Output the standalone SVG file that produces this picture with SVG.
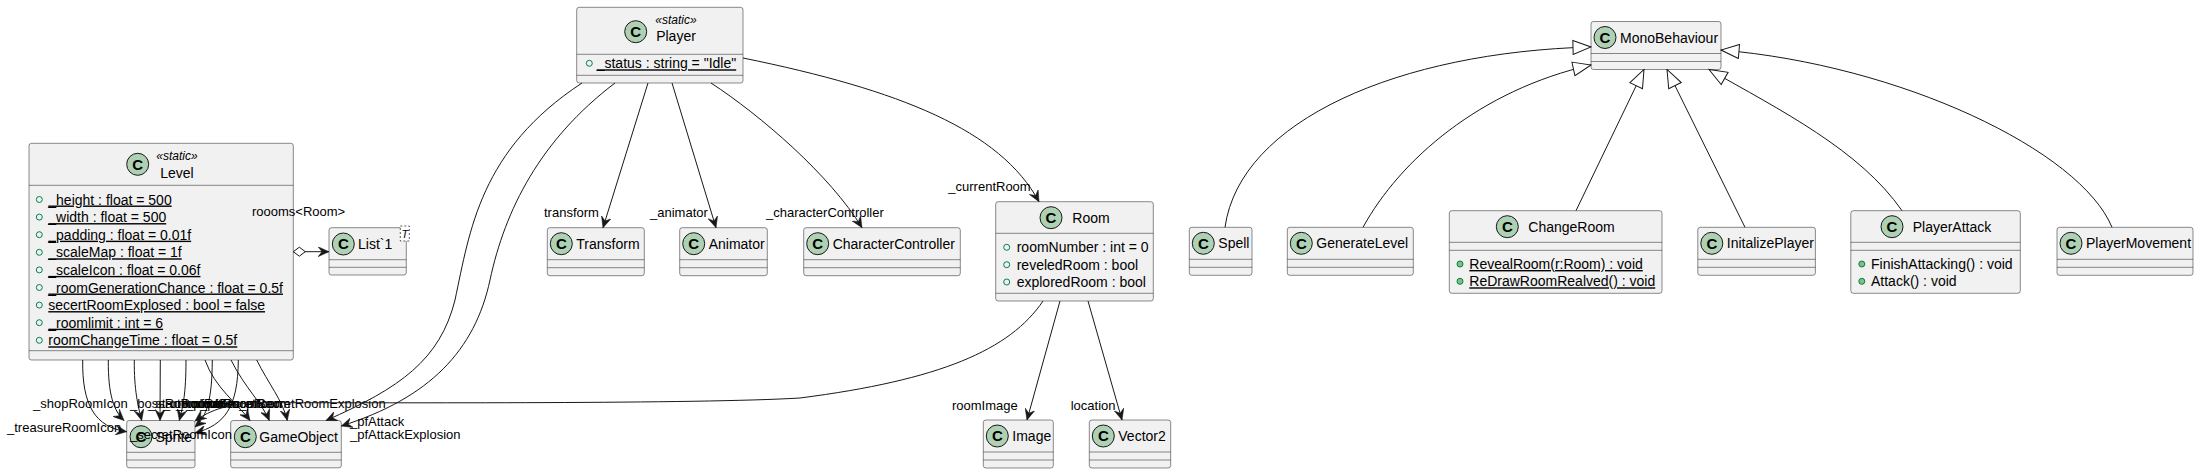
<svg xmlns="http://www.w3.org/2000/svg" width="2199" height="474" viewBox="0 0 2199 474">
<style>
.bg{fill:#FFFFFF}
.box{fill:#F1F1F1;stroke:#181818;stroke-width:0.5}
.dv{stroke:#181818;stroke-width:0.5}
.ci{fill:#ADD1B2;stroke:#181818;stroke-width:1}
.cc{font-family:"Liberation Sans",Arial,sans-serif;font-size:15px;font-weight:bold;fill:#000;text-anchor:middle}
.t{font-family:"Liberation Sans",Arial,sans-serif;font-size:14px;fill:#000}
.tm{font-family:"Liberation Sans",Arial,sans-serif;font-size:14px;fill:#000;text-anchor:middle}
.st{font-family:"Liberation Sans",Arial,sans-serif;font-size:12px;font-style:italic;fill:#000;text-anchor:middle}
.u{text-decoration:underline}
.lb{font-family:"Liberation Sans",Arial,sans-serif;font-size:13px;fill:#000}
.vf{fill:none;stroke:#038048;stroke-width:1}
.vm{fill:#84BE84;stroke:#038048;stroke-width:1}
.ea{fill:none;stroke:#181818;stroke-width:1;marker-end:url(#arr)}
.ei{fill:none;stroke:#181818;stroke-width:1;marker-end:url(#inh)}
.tp{fill:#FFFFFF;stroke:#181818;stroke-width:0.7;stroke-dasharray:2,2}
</style>
<defs>
<marker id="arr" viewBox="0 0 12 10" refX="11" refY="5" markerWidth="12" markerHeight="10" markerUnits="userSpaceOnUse" orient="auto">
<path d="M0,0 L11,5 L0,10 L4,5 Z" fill="#181818" stroke="#181818" stroke-width="0.5"/>
</marker>
<marker id="inh" viewBox="-1 -1 20 16" refX="18" refY="7" markerWidth="20" markerHeight="16" markerUnits="userSpaceOnUse" orient="auto">
<path d="M0,0 L18,7 L0,14 Z" fill="#FFFFFF" stroke="#181818" stroke-width="1"/>
</marker>
<marker id="dia" viewBox="-1 -1 14 12" refX="0" refY="5" markerWidth="14" markerHeight="12" markerUnits="userSpaceOnUse" orient="auto">
<path d="M0,5 L6,0.5 L12,5 L6,9.5 Z" fill="#FFFFFF" stroke="#181818" stroke-width="1"/>
</marker>
</defs>
<rect class="bg" x="0" y="0" width="2199" height="474"/>

<g id="Level">
<rect class="box" x="29" y="143.3" width="264.3" height="216.7" rx="2.5"/>
<circle class="ci" cx="137.7" cy="164.3" r="11"/>
<text class="cc" x="137.7" y="169.6">C</text>
<text class="st" x="177" y="160">«static»</text>
<text class="tm" x="177" y="177.5">Level</text>
<line class="dv" x1="29" y1="185.3" x2="293.3" y2="185.3"/>
<circle class="vf" cx="39.3" cy="199.5" r="3"/><text class="t u" x="48.3" y="204.5">_height : float = 500</text>
<circle class="vf" cx="39.3" cy="217.1" r="3"/><text class="t u" x="48.3" y="222.1">_width : float = 500</text>
<circle class="vf" cx="39.3" cy="234.7" r="3"/><text class="t u" x="48.3" y="239.7">_padding : float = 0.01f</text>
<circle class="vf" cx="39.3" cy="252.3" r="3"/><text class="t u" x="48.3" y="257.3">_scaleMap : float = 1f</text>
<circle class="vf" cx="39.3" cy="269.9" r="3"/><text class="t u" x="48.3" y="274.9">_scaleIcon : float = 0.06f</text>
<circle class="vf" cx="39.3" cy="287.5" r="3"/><text class="t u" x="48.3" y="292.5">_roomGenerationChance : float = 0.5f</text>
<circle class="vf" cx="39.3" cy="305.1" r="3"/><text class="t u" x="48.3" y="310.1">secertRoomExplosed : bool = false</text>
<circle class="vf" cx="39.3" cy="322.7" r="3"/><text class="t u" x="48.3" y="327.7">_roomlimit : int = 6</text>
<circle class="vf" cx="39.3" cy="340.3" r="3"/><text class="t u" x="48.3" y="345.3">roomChangeTime : float = 0.5f</text>
<line class="dv" x1="29" y1="350.7" x2="293.3" y2="350.7"/>
</g>

<g id="List1">
<rect class="box" x="329" y="227.7" width="77.3" height="47.3" rx="2.5"/>
<circle class="ci" cx="343.3" cy="244" r="11"/>
<text class="cc" x="343.3" y="249.3">C</text>
<text class="t" x="358" y="249">List`1</text>
<line class="dv" x1="329" y1="259.7" x2="406.3" y2="259.7"/>
<line class="dv" x1="329" y1="267.3" x2="406.3" y2="267.3"/>
<rect class="tp" x="400.3" y="226" width="9" height="15"/>
<text class="st" x="404.8" y="237.5" style="font-size:11px">T</text>
</g>

<g id="Sprite">
<rect class="box" x="126.7" y="420.5" width="68.3" height="47.3" rx="2.5"/>
<circle class="ci" cx="141" cy="436.7" r="11"/>
<text class="cc" x="141" y="442">C</text>
<text class="t" x="155.5" y="441.5">Sprite</text>
<line class="dv" x1="126.7" y1="452.3" x2="195" y2="452.3"/>
<line class="dv" x1="126.7" y1="460" x2="195" y2="460"/>
</g>

<g id="GameObject">
<rect class="box" x="230.7" y="420.5" width="110.6" height="47.3" rx="2.5"/>
<circle class="ci" cx="245.3" cy="436.7" r="11"/>
<text class="cc" x="245.3" y="442">C</text>
<text class="t" x="259.3" y="441.5">GameObject</text>
<line class="dv" x1="230.7" y1="452.3" x2="341.3" y2="452.3"/>
<line class="dv" x1="230.7" y1="460" x2="341.3" y2="460"/>
</g>

<g id="Player">
<rect class="box" x="576.7" y="7.3" width="166.3" height="75.7" rx="2.5"/>
<circle class="ci" cx="635.7" cy="31.7" r="11"/>
<text class="cc" x="635.7" y="37">C</text>
<text class="st" x="676" y="24">«static»</text>
<text class="tm" x="676" y="41">Player</text>
<line class="dv" x1="576.7" y1="54.3" x2="743" y2="54.3"/>
<circle class="vf" cx="589.3" cy="63.3" r="3"/><text class="t u" x="596.7" y="68.3">_status : string = "Idle"</text>
<line class="dv" x1="576.7" y1="75.3" x2="743" y2="75.3"/>
</g>

<g id="Transform">
<rect class="box" x="547.3" y="227.7" width="97" height="48" rx="2.5"/>
<circle class="ci" cx="561.3" cy="243.7" r="11"/>
<text class="cc" x="561.3" y="249">C</text>
<text class="t" x="576.3" y="248.7">Transform</text>
<line class="dv" x1="547.3" y1="259.7" x2="644.3" y2="259.7"/>
<line class="dv" x1="547.3" y1="267.7" x2="644.3" y2="267.7"/>
</g>

<g id="Animator">
<rect class="box" x="679.7" y="227.7" width="87.6" height="48" rx="2.5"/>
<circle class="ci" cx="693.7" cy="243.7" r="11"/>
<text class="cc" x="693.7" y="249">C</text>
<text class="t" x="708.7" y="248.7">Animator</text>
<line class="dv" x1="679.7" y1="259.7" x2="767.3" y2="259.7"/>
<line class="dv" x1="679.7" y1="267.7" x2="767.3" y2="267.7"/>
</g>

<g id="CharacterController">
<rect class="box" x="803.7" y="227.7" width="156.6" height="48" rx="2.5"/>
<circle class="ci" cx="817.7" cy="243.7" r="11"/>
<text class="cc" x="817.7" y="249">C</text>
<text class="t" x="832.7" y="248.7">CharacterController</text>
<line class="dv" x1="803.7" y1="259.7" x2="960.3" y2="259.7"/>
<line class="dv" x1="803.7" y1="267.7" x2="960.3" y2="267.7"/>
</g>

<g id="Room">
<rect class="box" x="995.7" y="201.7" width="157.6" height="99.3" rx="2.5"/>
<circle class="ci" cx="1051" cy="217.7" r="11"/>
<text class="cc" x="1051" y="223">C</text>
<text class="t" x="1072.3" y="222.5">Room</text>
<line class="dv" x1="995.7" y1="233.3" x2="1153.3" y2="233.3"/>
<circle class="vf" cx="1006.7" cy="247.3" r="3"/><text class="t" x="1016.7" y="252.3">roomNumber : int = 0</text>
<circle class="vf" cx="1006.7" cy="264.7" r="3"/><text class="t" x="1016.7" y="269.7">reveledRoom : bool</text>
<circle class="vf" cx="1006.7" cy="282" r="3"/><text class="t" x="1016.7" y="287">exploredRoom : bool</text>
<line class="dv" x1="995.7" y1="293.3" x2="1153.3" y2="293.3"/>
</g>

<g id="Image">
<rect class="box" x="983.3" y="420" width="70" height="48" rx="2.5"/>
<circle class="ci" cx="997.3" cy="436" r="11"/>
<text class="cc" x="997.3" y="441.3">C</text>
<text class="t" x="1012.3" y="441">Image</text>
<line class="dv" x1="983.3" y1="452" x2="1053.3" y2="452"/>
<line class="dv" x1="983.3" y1="460" x2="1053.3" y2="460"/>
</g>

<g id="Vector2">
<rect class="box" x="1089.3" y="420" width="81.4" height="48" rx="2.5"/>
<circle class="ci" cx="1103.3" cy="436" r="11"/>
<text class="cc" x="1103.3" y="441.3">C</text>
<text class="t" x="1118.3" y="441">Vector2</text>
<line class="dv" x1="1089.3" y1="452" x2="1170.7" y2="452"/>
<line class="dv" x1="1089.3" y1="460" x2="1170.7" y2="460"/>
</g>

<g id="MonoBehaviour">
<rect class="box" x="1591" y="21.5" width="130" height="48" rx="2.5"/>
<circle class="ci" cx="1605" cy="37.5" r="11"/>
<text class="cc" x="1605" y="42.8">C</text>
<text class="t" x="1620" y="42.5">MonoBehaviour</text>
<line class="dv" x1="1591" y1="53.5" x2="1721" y2="53.5"/>
<line class="dv" x1="1591" y1="61.5" x2="1721" y2="61.5"/>
</g>

<g id="Spell">
<rect class="box" x="1189.3" y="227.3" width="62.7" height="48" rx="2.5"/>
<circle class="ci" cx="1203.3" cy="243.3" r="11"/>
<text class="cc" x="1203.3" y="248.6">C</text>
<text class="t" x="1218.3" y="248.3">Spell</text>
<line class="dv" x1="1189.3" y1="259.3" x2="1252" y2="259.3"/>
<line class="dv" x1="1189.3" y1="267.3" x2="1252" y2="267.3"/>
</g>

<g id="GenerateLevel">
<rect class="box" x="1287.3" y="227.3" width="126" height="48" rx="2.5"/>
<circle class="ci" cx="1301.3" cy="243.3" r="11"/>
<text class="cc" x="1301.3" y="248.6">C</text>
<text class="t" x="1316.3" y="248.3">GenerateLevel</text>
<line class="dv" x1="1287.3" y1="259.3" x2="1413.3" y2="259.3"/>
<line class="dv" x1="1287.3" y1="267.3" x2="1413.3" y2="267.3"/>
</g>

<g id="ChangeRoom">
<rect class="box" x="1449.3" y="210.7" width="212.7" height="82.6" rx="2.5"/>
<circle class="ci" cx="1507.3" cy="226.7" r="11"/>
<text class="cc" x="1507.3" y="232">C</text>
<text class="t" x="1528.3" y="231.5">ChangeRoom</text>
<line class="dv" x1="1449.3" y1="242.3" x2="1662" y2="242.3"/>
<line class="dv" x1="1449.3" y1="250.3" x2="1662" y2="250.3"/>
<circle class="vm" cx="1460" cy="264" r="3"/><text class="t u" x="1469.3" y="269">RevealRoom(r:Room) : void</text>
<circle class="vm" cx="1460" cy="281.3" r="3"/><text class="t u" x="1469.3" y="286.3">ReDrawRoomRealved() : void</text>
</g>

<g id="InitalizePlayer">
<rect class="box" x="1697.8" y="227.3" width="117.6" height="48" rx="2.5"/>
<circle class="ci" cx="1711.8" cy="243.3" r="11"/>
<text class="cc" x="1711.8" y="248.6">C</text>
<text class="t" x="1726.8" y="248.3">InitalizePlayer</text>
<line class="dv" x1="1697.8" y1="259.3" x2="1815.4" y2="259.3"/>
<line class="dv" x1="1697.8" y1="267.3" x2="1815.4" y2="267.3"/>
</g>

<g id="PlayerAttack">
<rect class="box" x="1850.8" y="210.7" width="169.5" height="82.6" rx="2.5"/>
<circle class="ci" cx="1892" cy="226.7" r="11"/>
<text class="cc" x="1892" y="232">C</text>
<text class="t" x="1912.7" y="231.5">PlayerAttack</text>
<line class="dv" x1="1850.8" y1="242.3" x2="2020.3" y2="242.3"/>
<line class="dv" x1="1850.8" y1="250.3" x2="2020.3" y2="250.3"/>
<circle class="vm" cx="1861.8" cy="264" r="3"/><text class="t" x="1871" y="269">FinishAttacking() : void</text>
<circle class="vm" cx="1861.8" cy="281.3" r="3"/><text class="t" x="1871" y="286.3">Attack() : void</text>
</g>

<g id="PlayerMovement">
<rect class="box" x="2057" y="227.3" width="136" height="48" rx="2.5"/>
<circle class="ci" cx="2071" cy="243.3" r="11"/>
<text class="cc" x="2071" y="248.6">C</text>
<text class="t" x="2086" y="248.3">PlayerMovement</text>
<line class="dv" x1="2057" y1="259.3" x2="2193" y2="259.3"/>
<line class="dv" x1="2057" y1="267.3" x2="2193" y2="267.3"/>
</g>

<g id="connectors">
<path class="ea" d="M293.3,251.7 L329,251.7" marker-start="url(#dia)"/>
<text class="lb" x="252" y="216">roooms&lt;Room&gt;</text>
<path class="ea" d="M82.7,360 C82,405 95,427 126.7,431.7"/>
<path class="ea" d="M108.3,360 C108,395 114,411 124,420.5"/>
<path class="ea" d="M134.3,360 C134,390 138,406 141.7,420.5"/>
<path class="ea" d="M160.3,360 L160,420.5"/>
<path class="ea" d="M186,360 C186,394 183,406 179.3,420.5"/>
<path class="ea" d="M212.3,360 C212,400 207,416 195,427"/>
<path class="ea" d="M238.3,360 C238,407 225,425 195,433"/>
<path class="ea" d="M205,360 C215,388 237,403 250,420.5"/>
<path class="ea" d="M231,360 C245,388 262,403 269.3,420.5"/>
<path class="ea" d="M256.7,360 C268,383 283,401 287.3,420.5"/>
<text class="lb" x="7" y="431.5">_treasureRoomIcon</text>
<text class="lb" x="33" y="408">_shopRoomIcon</text>
<text class="lb" x="130" y="408">_bossRoomIcon</text>
<text class="lb" x="148" y="408">_startRoomIcon</text>
<text class="lb" x="163" y="408">_unknownRoomIcon</text>
<text class="lb" x="176" y="408">_normalRoomIcon</text>
<text class="lb" x="186" y="408">_pfRoom</text>
<text class="lb" x="200" y="408">_pfSecretRoom</text>
<text class="lb" x="239" y="408">_pfSecretRoomExplosion</text>
<text class="lb" x="130" y="438.5">_secretRoomIcon</text>
<path class="ea" d="M582,83 C480,150 470,230 455,300 C440,360 400,388 326,420.5"/>
<path class="ea" d="M615,83 C540,140 505,210 490,280 C475,350 430,398 341.3,426"/>
<text class="lb" x="350" y="426.2">_pfAttack</text>
<text class="lb" x="350" y="438.8">_pfAttackExplosion</text>
<path class="ea" d="M648,83 L603,227.7"/>
<text class="lb" x="544" y="216.8">transform</text>
<path class="ea" d="M672,83 L716,227.7"/>
<text class="lb" x="650" y="216.8">_animator</text>
<path class="ea" d="M711,83 C760,115 830,175 862,227.7"/>
<text class="lb" x="766" y="216.8">_characterController</text>
<path class="ea" d="M743,58 C900,90 1000,130 1039,201.7"/>
<text class="lb" x="948.3" y="190.5">_currentRoom</text>
<path class="ea" d="M1060,301 L1027,420"/>
<text class="lb" x="952" y="409.5">roomImage</text>
<path class="ea" d="M1088,301 L1122,420"/>
<text class="lb" x="1070.7" y="409.5">location</text>
<path class="ea" d="M1043,301 C1010,350 940,380 800,398 C700,404 400,402.7 260,402.7 C230,403 210,410 195,421"/>
<path class="ei" d="M1225,227.3 C1240,120 1400,52 1591,47"/>
<path class="ei" d="M1363,227.3 C1400,160 1480,90 1591,65"/>
<path class="ei" d="M1576,210.7 L1644,69.5"/>
<path class="ei" d="M1745,227.3 L1667,69.5"/>
<path class="ei" d="M1902,210.7 C1860,150 1780,110 1709,69.5"/>
<path class="ei" d="M2112,227.3 C2080,150 1900,65 1721,50"/>
</g>
</svg>
